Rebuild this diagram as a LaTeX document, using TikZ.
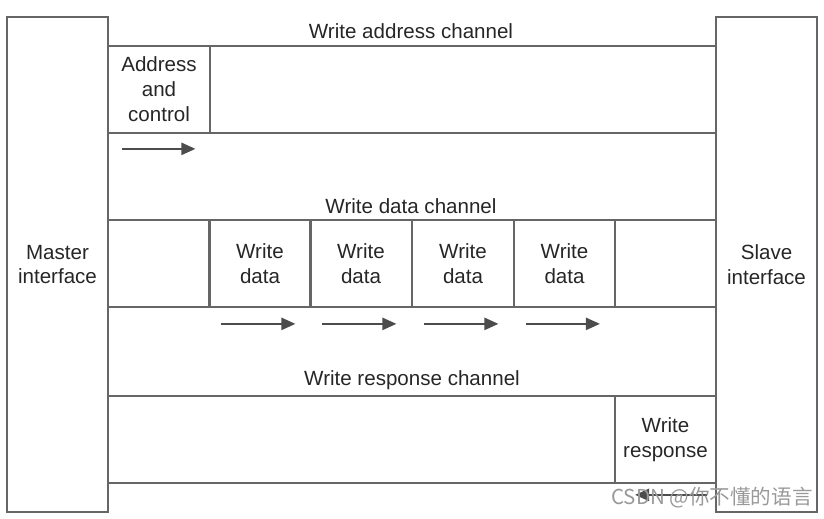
\documentclass[tikz,border=0pt]{standalone}
\usepackage{fontspec}
\setmainfont{Liberation Sans}
\newfontfamily\cjk{Noto Sans CJK SC}
\usetikzlibrary{arrows.meta}

\begin{document}
\begin{tikzpicture}[x=0.02cm,y=-0.02cm,
    line width=1pt,
    every node/.style={font=\fontsize{11.7}{14.2}\selectfont, text=black!85, align=center},
    box/.style={draw=black!60, inner sep=0pt},
    iface/.style={box, minimum width=2.02cm, minimum height=9.9cm},
    chan/.style={box, minimum width=12.16cm, minimum height=1.74cm},
    cell/.style={box, minimum width=2.03cm, minimum height=1.74cm},
    flow/.style={draw=black!70, -{Triangle[length=8pt,width=7pt]}}]
  \useasboundingbox (0,0) rectangle (824,518);

  \node (master) at (57.5,264.5) [iface] {Master\\interface};
  \node (slave)  at (766.5,264.5) [iface] {Slave\\interface};

  \node (awchan) at (412,89.5)  [chan] {};
  \node (wchan)  at (412,263.5) [chan] {};
  \node (bchan)  at (412,439.5) [chan] {};

  \node (awlabel) at (411,31)  {Write address channel};
  \node (wlabel)  at (411,206) {Write data channel};
  \node (blabel)  at (412,380) {Write response channel};

  \node (addr) at (159,89.5) [cell] {Address\\and\\control};
  \node (wd1)  at (260,263.5) [cell] {Write\\data};
  \node (wd2)  at (361,263.5) [cell] {Write\\data};
  \node (wd3)  at (463,263.5) [cell] {Write\\data};
  \node (wd4)  at (564.5,263.5) [cell] {Write\\data};
  \node (wd5)  at (665.5,263.5) [cell] {};
  \node (wd0)  at (159,263.5) [cell] {};
  \node (resp) at (665.5,439.5) [cell] {Write\\response};

  % direction of transfer
  \draw[flow] ([xshift=15*0.02cm,yshift=-15*0.02cm]addr.south west) -- ++(73,0);
  \foreach \c in {wd1,wd2,wd3,wd4}
    \draw[flow] ([xshift=13*0.02cm,yshift=-16*0.02cm]\c.south west) -- ++(74,0);
  \draw[flow] ([xshift=-10*0.02cm,yshift=-11*0.02cm]resp.south east) -- ++(-72,0);

  \node (mark) at (712,498) [text=black!40] {\cjk CSDN @你不懂的语言};
\end{tikzpicture}
\end{document}
